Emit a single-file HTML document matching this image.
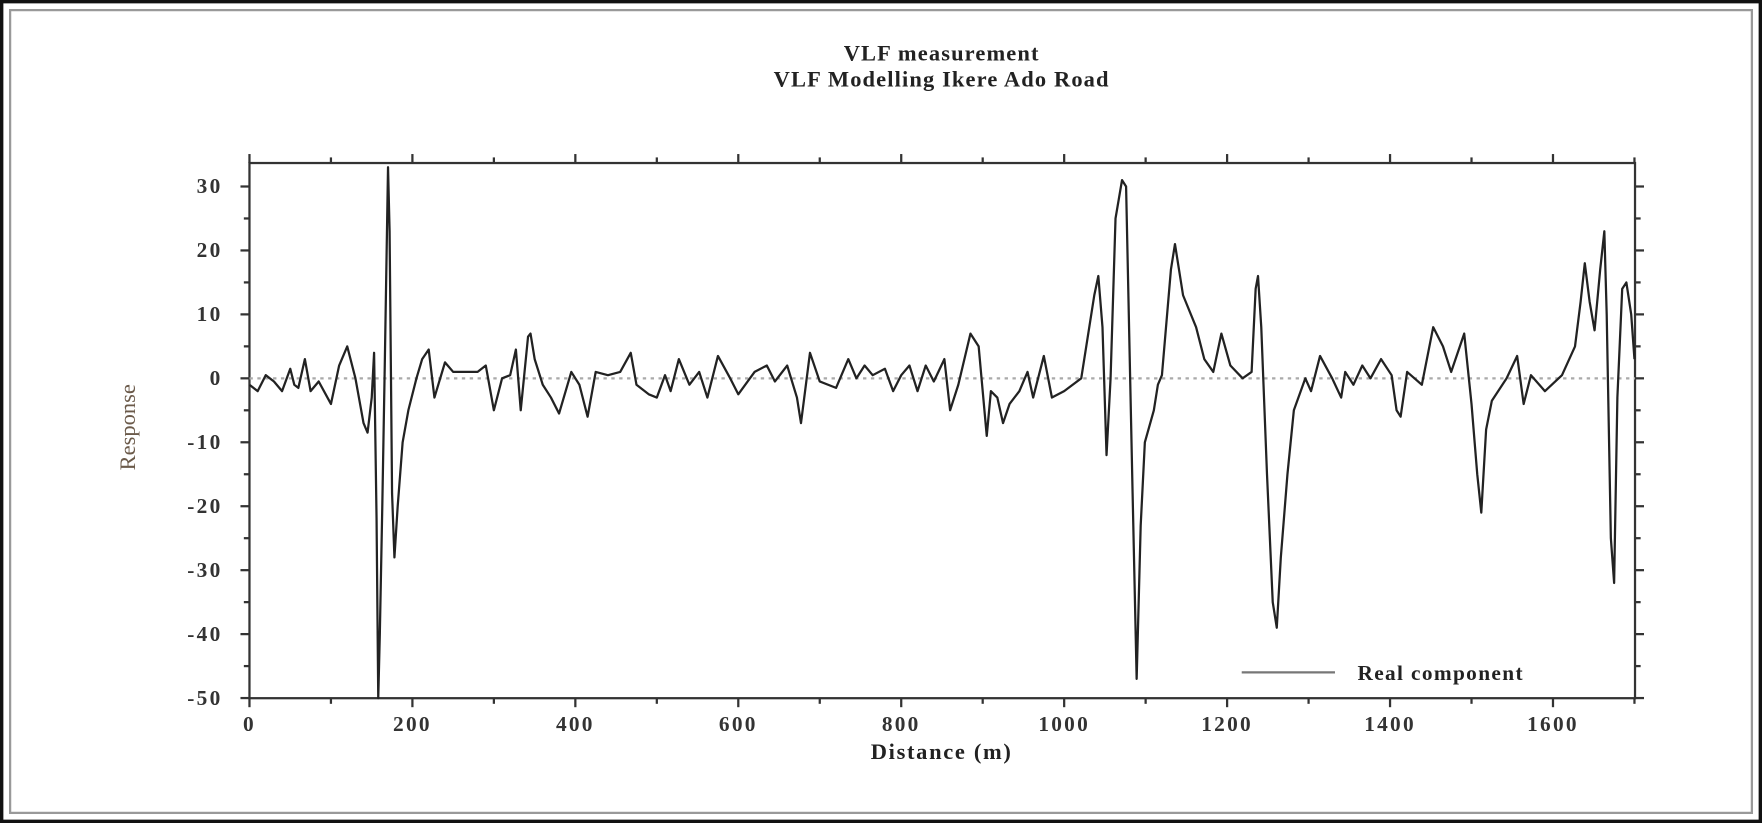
<!DOCTYPE html>
<html><head><meta charset="utf-8"><style>
html,body{margin:0;padding:0;background:#fff;}
svg{display:block;}
text{font-family:"Liberation Serif",serif;}
</style></head><body>
<svg id="chart" width="1762" height="823" viewBox="0 0 1568 732" preserveAspectRatio="none" xmlns="http://www.w3.org/2000/svg">
<rect x="1.5" y="1.5" width="1565" height="729" fill="#fff" stroke="#111" stroke-width="3"/>
<rect x="9" y="9" width="1550" height="714" fill="none" stroke="#999" stroke-width="2"/>
<text x="838" y="54" text-anchor="middle" font-weight="bold" font-size="20" letter-spacing="1" fill="#222">VLF measurement</text>
<text x="838" y="77" text-anchor="middle" font-weight="bold" font-size="20" letter-spacing="1" fill="#222">VLF Modelling Ikere Ado Road</text>
<g id="axes"></g>
<g id="series"></g>
<text x="838" y="675" text-anchor="middle" font-weight="bold" font-size="20" letter-spacing="1.5" fill="#222">Distance (m)</text>
<text transform="translate(120,380) rotate(-90)" text-anchor="middle" font-size="20" fill="#6b5a4a">Response</text>
<g>
<line x1="1105" y1="598" x2="1188" y2="598" stroke="#777" stroke-width="2"/>
<text x="1208" y="605" font-weight="bold" font-size="19" letter-spacing="1.2" fill="#222">Real component</text>
</g>
</svg>
<script>
const distances=[0,10,20,30,40,50,55,60,68,75,85,100,110,120,130,140,145,150,153,156,158,160,163,166,170,172,175,178,182,188,195,205,212,220,227,240,250,280,290,300,310,320,327,333,342,345,350,360,370,380,395,405,415,425,440,455,468,475,490,500,510,517,527,540,552,562,575,590,600,620,635,645,660,672,677,688,700,720,735,745,755,765,780,790,800,810,820,830,840,853,860,870,885,895,905,910,918,925,933,945,955,962,975,985,1000,1021,1037,1042,1047,1052,1057,1063,1071,1076,1084,1089,1094,1099,1110,1115,1120,1131,1136,1146,1162,1172,1183,1193,1204,1219,1230,1235,1238,1242,1249,1256,1261,1266,1274,1282,1296,1303,1314,1329,1340,1345,1355,1366,1376,1389,1402,1408,1413,1421,1439,1453,1465,1475,1491,1500,1507,1512,1518,1525,1543,1556,1564,1573,1590,1611,1627,1634,1639,1645,1651,1658,1663,1666,1671,1675,1679,1685,1690,1696,1700];
const responses=[-1,-2,0.5,-0.5,-2,1.5,-1,-1.5,3,-2,-0.5,-4,2,5,0,-7,-8.5,-3,4,-22,-50,-40,-20,2,33,23,-18,-28,-20,-10,-5,0,3,4.5,-3,2.5,1,1,2,-5,0,0.5,4.5,-5,6.5,7,3,-1,-3,-5.5,1,-1,-6,1,0.5,1,4,-1,-2.5,-3,0.5,-2,3,-1,1,-3,3.5,0,-2.5,1,2,-0.5,2,-3,-7,4,-0.5,-1.5,3,0,2,0.5,1.5,-2,0.5,2,-2,2,-0.5,3,-5,-1,7,5,-9,-2,-3,-7,-4,-2,1,-3,3.5,-3,-2,0,13,16,8,-12,0,25,31,30,-18,-47,-23,-10,-5,-1,0.5,17,21,13,8,3,1,7,2,0,1,14,16,8,-15,-35,-39,-28,-15,-5,0,-2,3.5,0,-3,1,-1,2,0,3,0.5,-5,-6,1,-1,8,5,1,7,-4,-15,-21,-8,-3.5,0,3.5,-4,0.5,-2,0.5,5,12,18,12,7.5,17,23,10,-25,-32,-3,14,15,10,3];
const yTicks=[30,20,10,0,-10,-20,-30,-40,-50];
const xTicks=[0,200,400,600,800,1000,1200,1400,1600];
const X0=222,X1=1455,Y0=145,Y1=621;
function xs(v){return X0+v*(1160/1600);}
function ys(v){return 336.5-v*(455/80);}
const NS='http://www.w3.org/2000/svg';
function mk(tag,attrs,parent){const e=document.createElementNS(NS,tag);for(const k in attrs)e.setAttribute(k,attrs[k]);parent.appendChild(e);return e;}
const axes=document.getElementById('axes');
const frame=mk('rect',{x:X0,y:Y0,width:X1-X0,height:Y1-Y0,fill:'none',stroke:'#333','stroke-width':2},axes);


const zl=mk('line',{x1:X0,x2:X1,y1:ys(0),y2:ys(0),stroke:'#aaa','stroke-width':2,'stroke-dasharray':'3,4'},axes);


for(let v=-50;v<=30;v+=5){
  const major=v%10===0;const L=major?8:5;
  const t1=mk('line',{x1:X0-L,x2:X0,y1:ys(v),y2:ys(v),stroke:'#333','stroke-width':2},axes);
  
  
  const t2=mk('line',{x1:X1,x2:X1+L,y1:ys(v),y2:ys(v),stroke:'#333','stroke-width':2},axes);
  
  
}
yTicks.forEach(v=>{
  const t=mk('text',{x:X0-24,y:ys(v)+6,'text-anchor':'end','font-weight':'bold','font-size':19,'letter-spacing':2,fill:'#333'},axes);
  t.textContent=String(v);
  
  
});
for(let v=0;v<=1700;v+=100){
  const major=v%200===0;const L=major?8:5;
  const b=mk('line',{x1:xs(v),x2:xs(v),y1:Y1,y2:Y1+L,stroke:'#333','stroke-width':2},axes);
  
  
  const tp=mk('line',{x1:xs(v),x2:xs(v),y1:Y0-L,y2:Y0,stroke:'#333','stroke-width':2},axes);
  
  
}
xTicks.forEach(v=>{
  const t=mk('text',{x:xs(v),y:650,'text-anchor':'middle','font-weight':'bold','font-size':19,'letter-spacing':2,fill:'#333'},axes);
  t.textContent=v;
  
  
});
const series=document.getElementById('series');
const pts=distances.map((d,i)=>xs(d).toFixed(1)+','+ys(Math.max(-50,responses[i])).toFixed(1)).join(' ');
const pl=mk('polyline',{points:pts,fill:'none',stroke:'#222','stroke-width':2,'stroke-linejoin':'round'},series);


</script>
</body></html>
